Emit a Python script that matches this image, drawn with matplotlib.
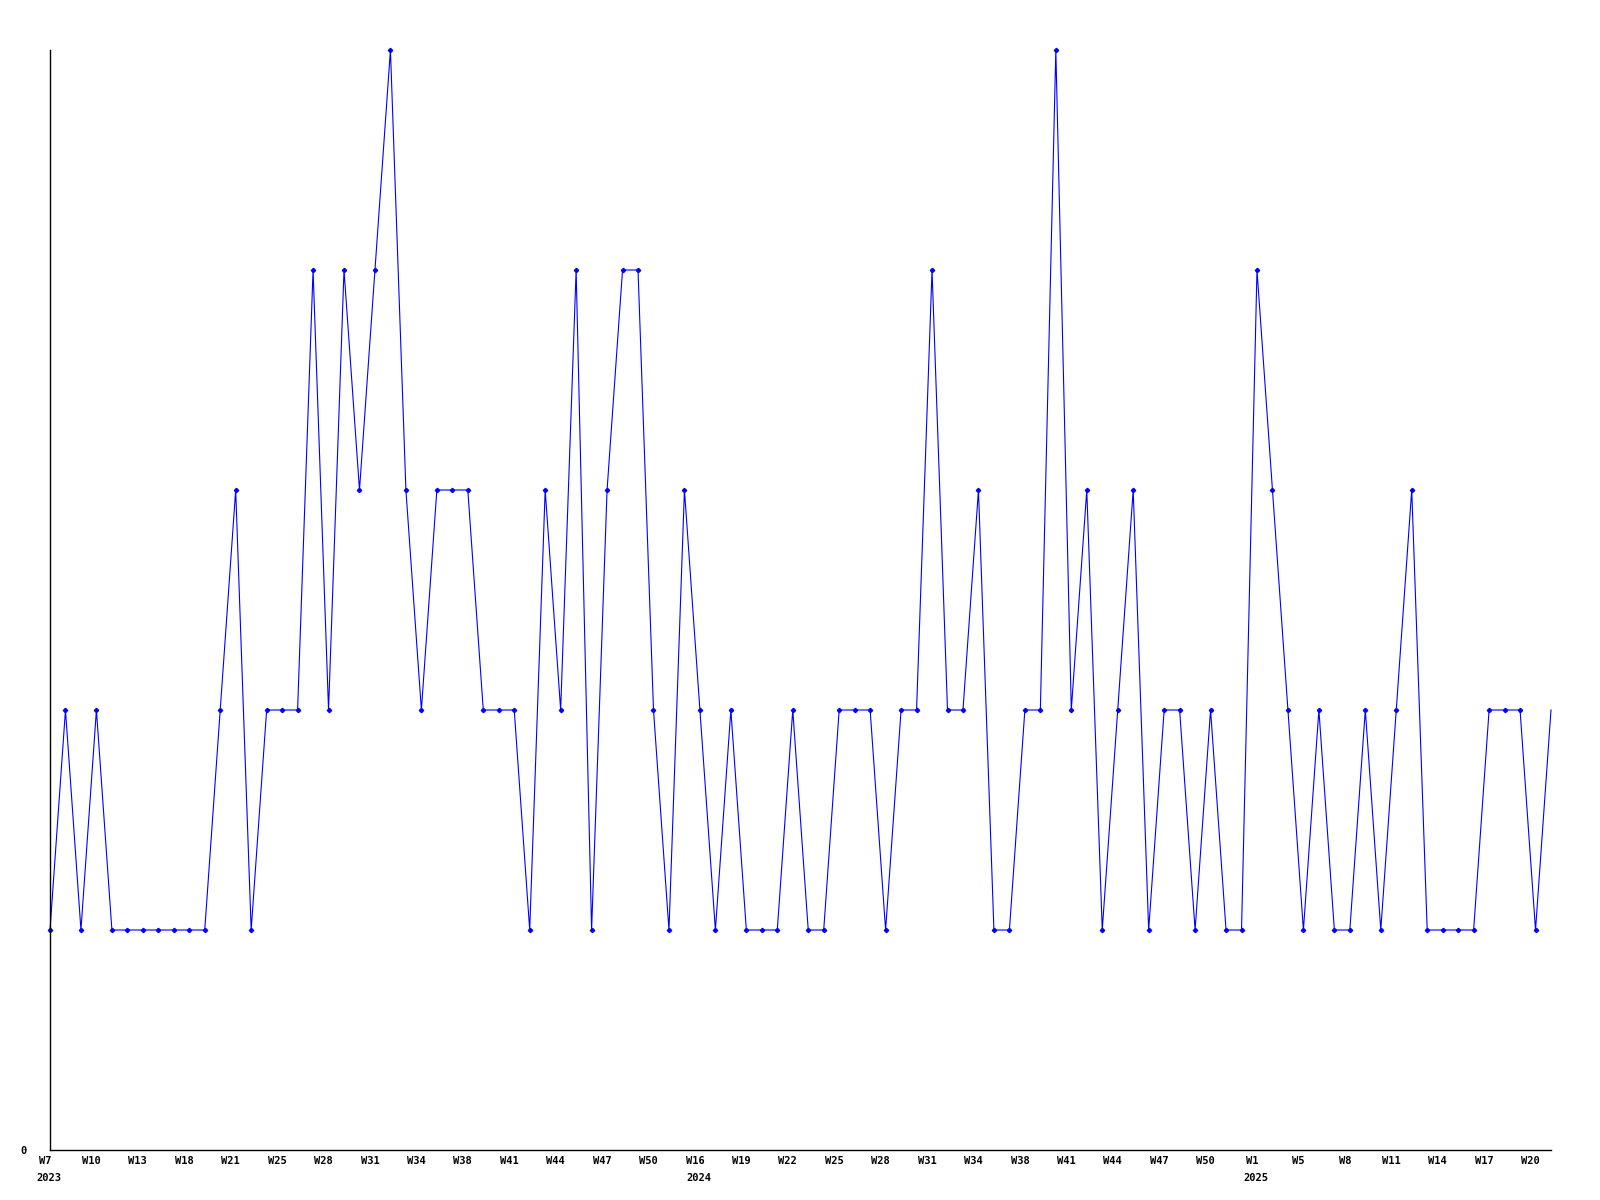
import matplotlib
matplotlib.use("Agg")
import matplotlib.pyplot as plt
import matplotlib.transforms as mtransforms

# Weekly counts, one value per week shown on the axis
values = [1, 2, 1, 2, 1, 1, 1, 1, 1, 1, 1, 2, 3, 1, 2, 2, 2, 4, 2, 4,
          3, 4, 5, 3, 2, 3, 3, 3, 2, 2, 2, 1, 3, 2, 4, 1, 3, 4, 4, 2,
          1, 3, 2, 1, 2, 1, 1, 1, 2, 1, 1, 2, 2, 2, 1, 2, 2, 4, 2, 2,
          3, 1, 1, 2, 2, 5, 2, 3, 1, 2, 3, 1, 2, 2, 1, 2, 1, 1, 4, 3,
          2, 1, 2, 1, 1, 2, 1, 2, 3, 1, 1, 1, 1, 2, 2, 2, 1, 2]

# Tick labels every third point
week_labels = ["W7", "W10", "W13", "W18", "W21", "W25", "W28", "W31", "W34",
               "W38", "W41", "W44", "W47", "W50", "W16", "W19", "W22", "W25",
               "W28", "W31", "W34", "W38", "W41", "W44", "W47", "W50", "W1",
               "W5", "W8", "W11", "W14", "W17", "W20"]
year_labels = ["2023", "2024", "2025"]
year_ticks = [0, 14, 26]  # index into week_labels

x = list(range(len(values)))
tick_pos = list(range(0, len(values), 3))

fig = plt.figure(figsize=(16, 12), dpi=100)
ax = fig.add_axes([50 / 1600, 50 / 1200, 1501 / 1600, 1100 / 1200])

ax.plot(x, values, color="#0000ff", linewidth=0.8, marker="D", markersize=2.2,
        markevery=list(range(len(values) - 1)), clip_on=False)

ax.set_xlim(0, len(values) - 1)
ax.set_ylim(0, 5)

for side in ["top", "right"]:
    ax.spines[side].set_visible(False)
for side in ["left", "bottom"]:
    ax.spines[side].set_linewidth(1.0)
    ax.spines[side].set_color("black")

font = dict(family="DejaVu Sans Mono", weight="bold", size=7.5)

ax.set_yticks([0])
ax.set_yticklabels(["0"], **font)
ax.tick_params(axis="y", length=0, pad=17)

ax.set_xticks(tick_pos)
ax.set_xticklabels(week_labels, **font)
ax.tick_params(axis="x", length=0, pad=4)
shift = mtransforms.ScaledTranslation(-5 / 100, 0, fig.dpi_scale_trans)
for lab in ax.get_xticklabels():
    lab.set_transform(lab.get_transform() + shift)

# year labels under the first week of each year
trans = mtransforms.blended_transform_factory(ax.transData, ax.transAxes)
for yl, ti in zip(year_labels, year_ticks):
    ax.text(tick_pos[ti], 0, yl, transform=trans + mtransforms.ScaledTranslation(-14 / 100, -23 / 100, fig.dpi_scale_trans),
            ha="left", va="top", **font)

fig.savefig("out.png", dpi=100)
